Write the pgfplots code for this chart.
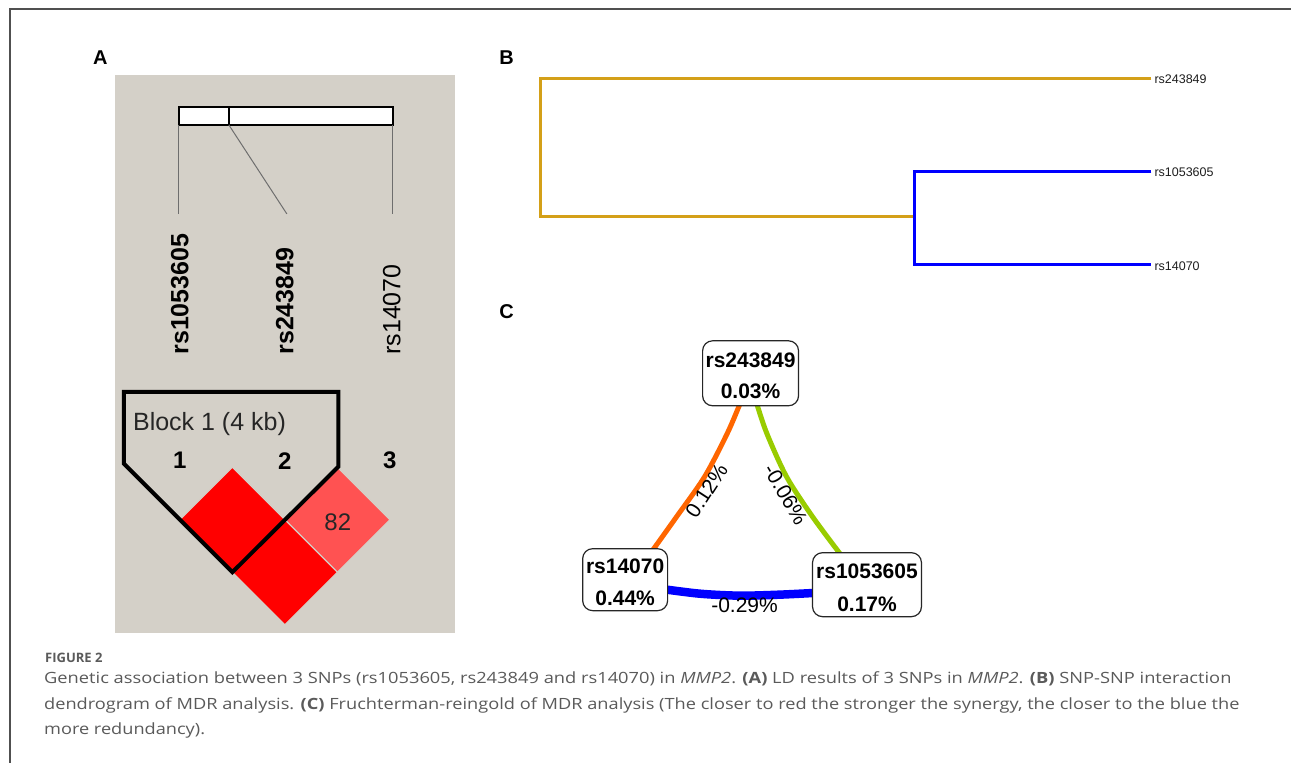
\documentclass[border=0pt]{standalone}
\usepackage{pgfplots}
\pgfplotsset{compat=1.18}
\usepackage{fontspec}
\setmainfont{Liberation Sans}
\newfontfamily\capfont{Open Sans}
\definecolor{panelgray}{RGB}{212,208,200}
\definecolor{gold}{RGB}{212,160,24}
\definecolor{ldred}{RGB}{255,0,0}
\definecolor{ldpink}{RGB}{255,82,82}
\definecolor{edgeorange}{RGB}{255,102,0}
\definecolor{edgegreen}{RGB}{153,204,0}
\definecolor{edgeblue}{RGB}{0,0,255}
\definecolor{capgray}{RGB}{90,90,90}
\definecolor{framegray}{RGB}{80,80,80}
\definecolor{linegray}{RGB}{110,110,110}
\definecolor{labgray}{RGB}{30,30,30}
\newlength\capw
\newcommand\fitline[2]{\settowidth\capw{#2}\pgfmathsetmacro\capf{#1/\the\capw}\xdef\capfactor{\capf}\scalebox{\capf}[1]{#2}}
\begin{document}
\begin{tikzpicture}
\begin{axis}[scale only axis, width=1292pt, height=763pt,
  xmin=0, xmax=1292, ymin=0, ymax=763, y dir=reverse,
  hide axis, clip=false]
% background and frame
\addplot[draw=none, fill=white] coordinates {(0,0)(1292,0)(1292,763)(0,763)} -- cycle;
\addplot[draw=framegray, line width=1.5pt] coordinates {(10,763)(10,9)(1292,9)};
% ---------- Panel A ----------
\addplot[draw=none, fill=panelgray] coordinates {(115,75)(455,75)(455,633)(115,633)} -- cycle;
\addplot[draw=black, fill=white, line width=1.5pt] coordinates {(179,107)(393,107)(393,125)(179,125)} -- cycle;
\addplot[draw=black, line width=2pt] coordinates {(229,107)(229,125)};
\addplot[draw=linegray, line width=1pt] coordinates {(179,125)(179,214)};
\addplot[draw=linegray, line width=1pt] coordinates {(229,125)(287,214)};
\addplot[draw=linegray, line width=1pt] coordinates {(393,125)(393,214)};
% LD diamonds
\addplot[fill=ldred, draw=panelgray, line width=1pt] coordinates {(232.5,467.5)(285,520)(232.5,572.5)(180,520)} -- cycle;
\addplot[fill=ldpink, draw=panelgray, line width=1pt] coordinates {(337.5,467.5)(390,520)(337.5,572.5)(285,520)} -- cycle;
\addplot[fill=ldred, draw=panelgray, line width=1pt] coordinates {(285,520)(337.5,572.5)(285,625)(232.5,572.5)} -- cycle;
% block outline
\addplot[draw=black, line width=4pt, line join=miter] coordinates {(124,464)(124,392)(338.5,392)(338.5,467)(232.5,572.5)} -- cycle;
\node[rotate=90, anchor=west, inner sep=0pt, font=\bfseries\fontsize{25}{25}\selectfont] at (180,355) {rs1053605};
\node[rotate=90, anchor=west, inner sep=0pt, font=\bfseries\fontsize{25}{25}\selectfont] at (285,355) {rs243849};
\node[rotate=90, anchor=west, inner sep=0pt, font=\fontsize{25}{25}\selectfont] at (392,355) {rs14070};
\node[anchor=west, inner sep=0pt, font=\fontsize{25}{25}\selectfont, text=black!85] at (133,424) {Block 1 (4 kb)};
\node[inner sep=0pt, font=\bfseries\fontsize{24}{24}\selectfont] at (180,461) {1};
\node[inner sep=0pt, font=\bfseries\fontsize{24}{24}\selectfont] at (285,461) {2};
\node[inner sep=0pt, font=\bfseries\fontsize{24}{24}\selectfont] at (390,461) {3};
\node[inner sep=0pt, font=\fontsize{24}{24}\selectfont, text=black!85] at (338,523) {82};
\node[inner sep=0pt, font=\bfseries\fontsize{20}{20}\selectfont] at (100.5,58) {A};
% ---------- Panel B ----------
\node[inner sep=0pt, font=\bfseries\fontsize{20}{20}\selectfont] at (507,58) {B};
\addplot[draw=gold, line width=3pt, line join=miter] coordinates {(1152,79)(541,79)(541,217)(915,217)};
\addplot[draw=edgeblue, line width=3pt, line join=miter] coordinates {(1152,172)(915,172)(915,265)(1152,265)};
\node[anchor=west, inner sep=0pt, font=\fontsize{12.5}{12.5}\selectfont, text=labgray] at (1155,79) {rs243849};
\node[anchor=west, inner sep=0pt, font=\fontsize{12.5}{12.5}\selectfont, text=labgray] at (1155,172) {rs1053605};
\node[anchor=west, inner sep=0pt, font=\fontsize{12.5}{12.5}\selectfont, text=labgray] at (1155,266) {rs14070};
% ---------- Panel C ----------
\node[inner sep=0pt, font=\bfseries\fontsize{20}{20}\selectfont] at (507,312) {C};
\addplot[draw=edgeorange, line width=5pt, smooth] coordinates {(742,400)(728,433)(705,477)(677,517)(652,552)};
\addplot[draw=edgegreen, line width=5pt, smooth] coordinates {(756,400)(767,433)(787,477)(813,517)(842,556)};
\addplot[draw=edgeblue, line width=8.5pt, smooth] coordinates {(660,589)(700,594)(740,596)(780,595)(820,593)};
\addplot[draw=black!85, fill=white, line width=1.2pt, rounded corners=10pt] coordinates {(703,341)(799,341)(799,406)(703,406)} -- cycle;
\addplot[draw=black!85, fill=white, line width=1.2pt, rounded corners=10pt] coordinates {(583,549)(668,549)(668,611)(583,611)} -- cycle;
\addplot[draw=black!85, fill=white, line width=1.2pt, rounded corners=10pt] coordinates {(813,553)(922,553)(922,617)(813,617)} -- cycle;
\node[inner sep=0pt, font=\bfseries\fontsize{21}{21}\selectfont] at (751,360) {rs243849};
\node[inner sep=0pt, font=\bfseries\fontsize{21}{21}\selectfont] at (751,392) {0.03\%};
\node[inner sep=0pt, font=\bfseries\fontsize{21}{21}\selectfont] at (625.5,567) {rs14070};
\node[inner sep=0pt, font=\bfseries\fontsize{21}{21}\selectfont] at (625.5,599) {0.44\%};
\node[inner sep=0pt, font=\bfseries\fontsize{21}{21}\selectfont] at (867.5,572) {rs1053605};
\node[inner sep=0pt, font=\bfseries\fontsize{21}{21}\selectfont] at (867.5,605) {0.17\%};
\node[inner sep=0pt, rotate=57, font=\fontsize{21}{21}\selectfont] at (707,491) {0.12\%};
\node[inner sep=0pt, rotate=-60, font=\fontsize{21}{21}\selectfont] at (786,495) {-0.06\%};
\node[inner sep=0pt, font=\fontsize{21}{21}\selectfont] at (745,606) {-0.29\%};
% ---------- Caption ----------
\node[anchor=base west, inner sep=0pt, font=\capfont\bfseries\fontsize{13}{13}\selectfont, text=capgray] at (45,663) {FIGURE 2};
\node[anchor=base west, inner sep=0pt, font=\capfont\fontsize{15.5}{15.5}\selectfont, text=capgray] at (44,684) {\fitline{1188pt}{Genetic association between 3 SNPs (rs1053605, rs243849 and rs14070) in \textit{MMP2}. \textbf{(A)} LD results of 3 SNPs in \textit{MMP2}. \textbf{(B)} SNP-SNP interaction}};
\node[anchor=base west, inner sep=0pt, font=\capfont\fontsize{15.5}{15.5}\selectfont, text=capgray] at (44,710) {\fitline{1196pt}{dendrogram of MDR analysis. \textbf{(C)} Fruchterman-reingold of MDR analysis (The closer to red the stronger the synergy, the closer to the blue the}};
\node[anchor=base west, inner sep=0pt, font=\capfont\fontsize{15.5}{15.5}\selectfont, text=capgray] at (44,735) {\fitline{161pt}{more redundancy).}};
\end{axis}
\end{tikzpicture}
\end{document}
